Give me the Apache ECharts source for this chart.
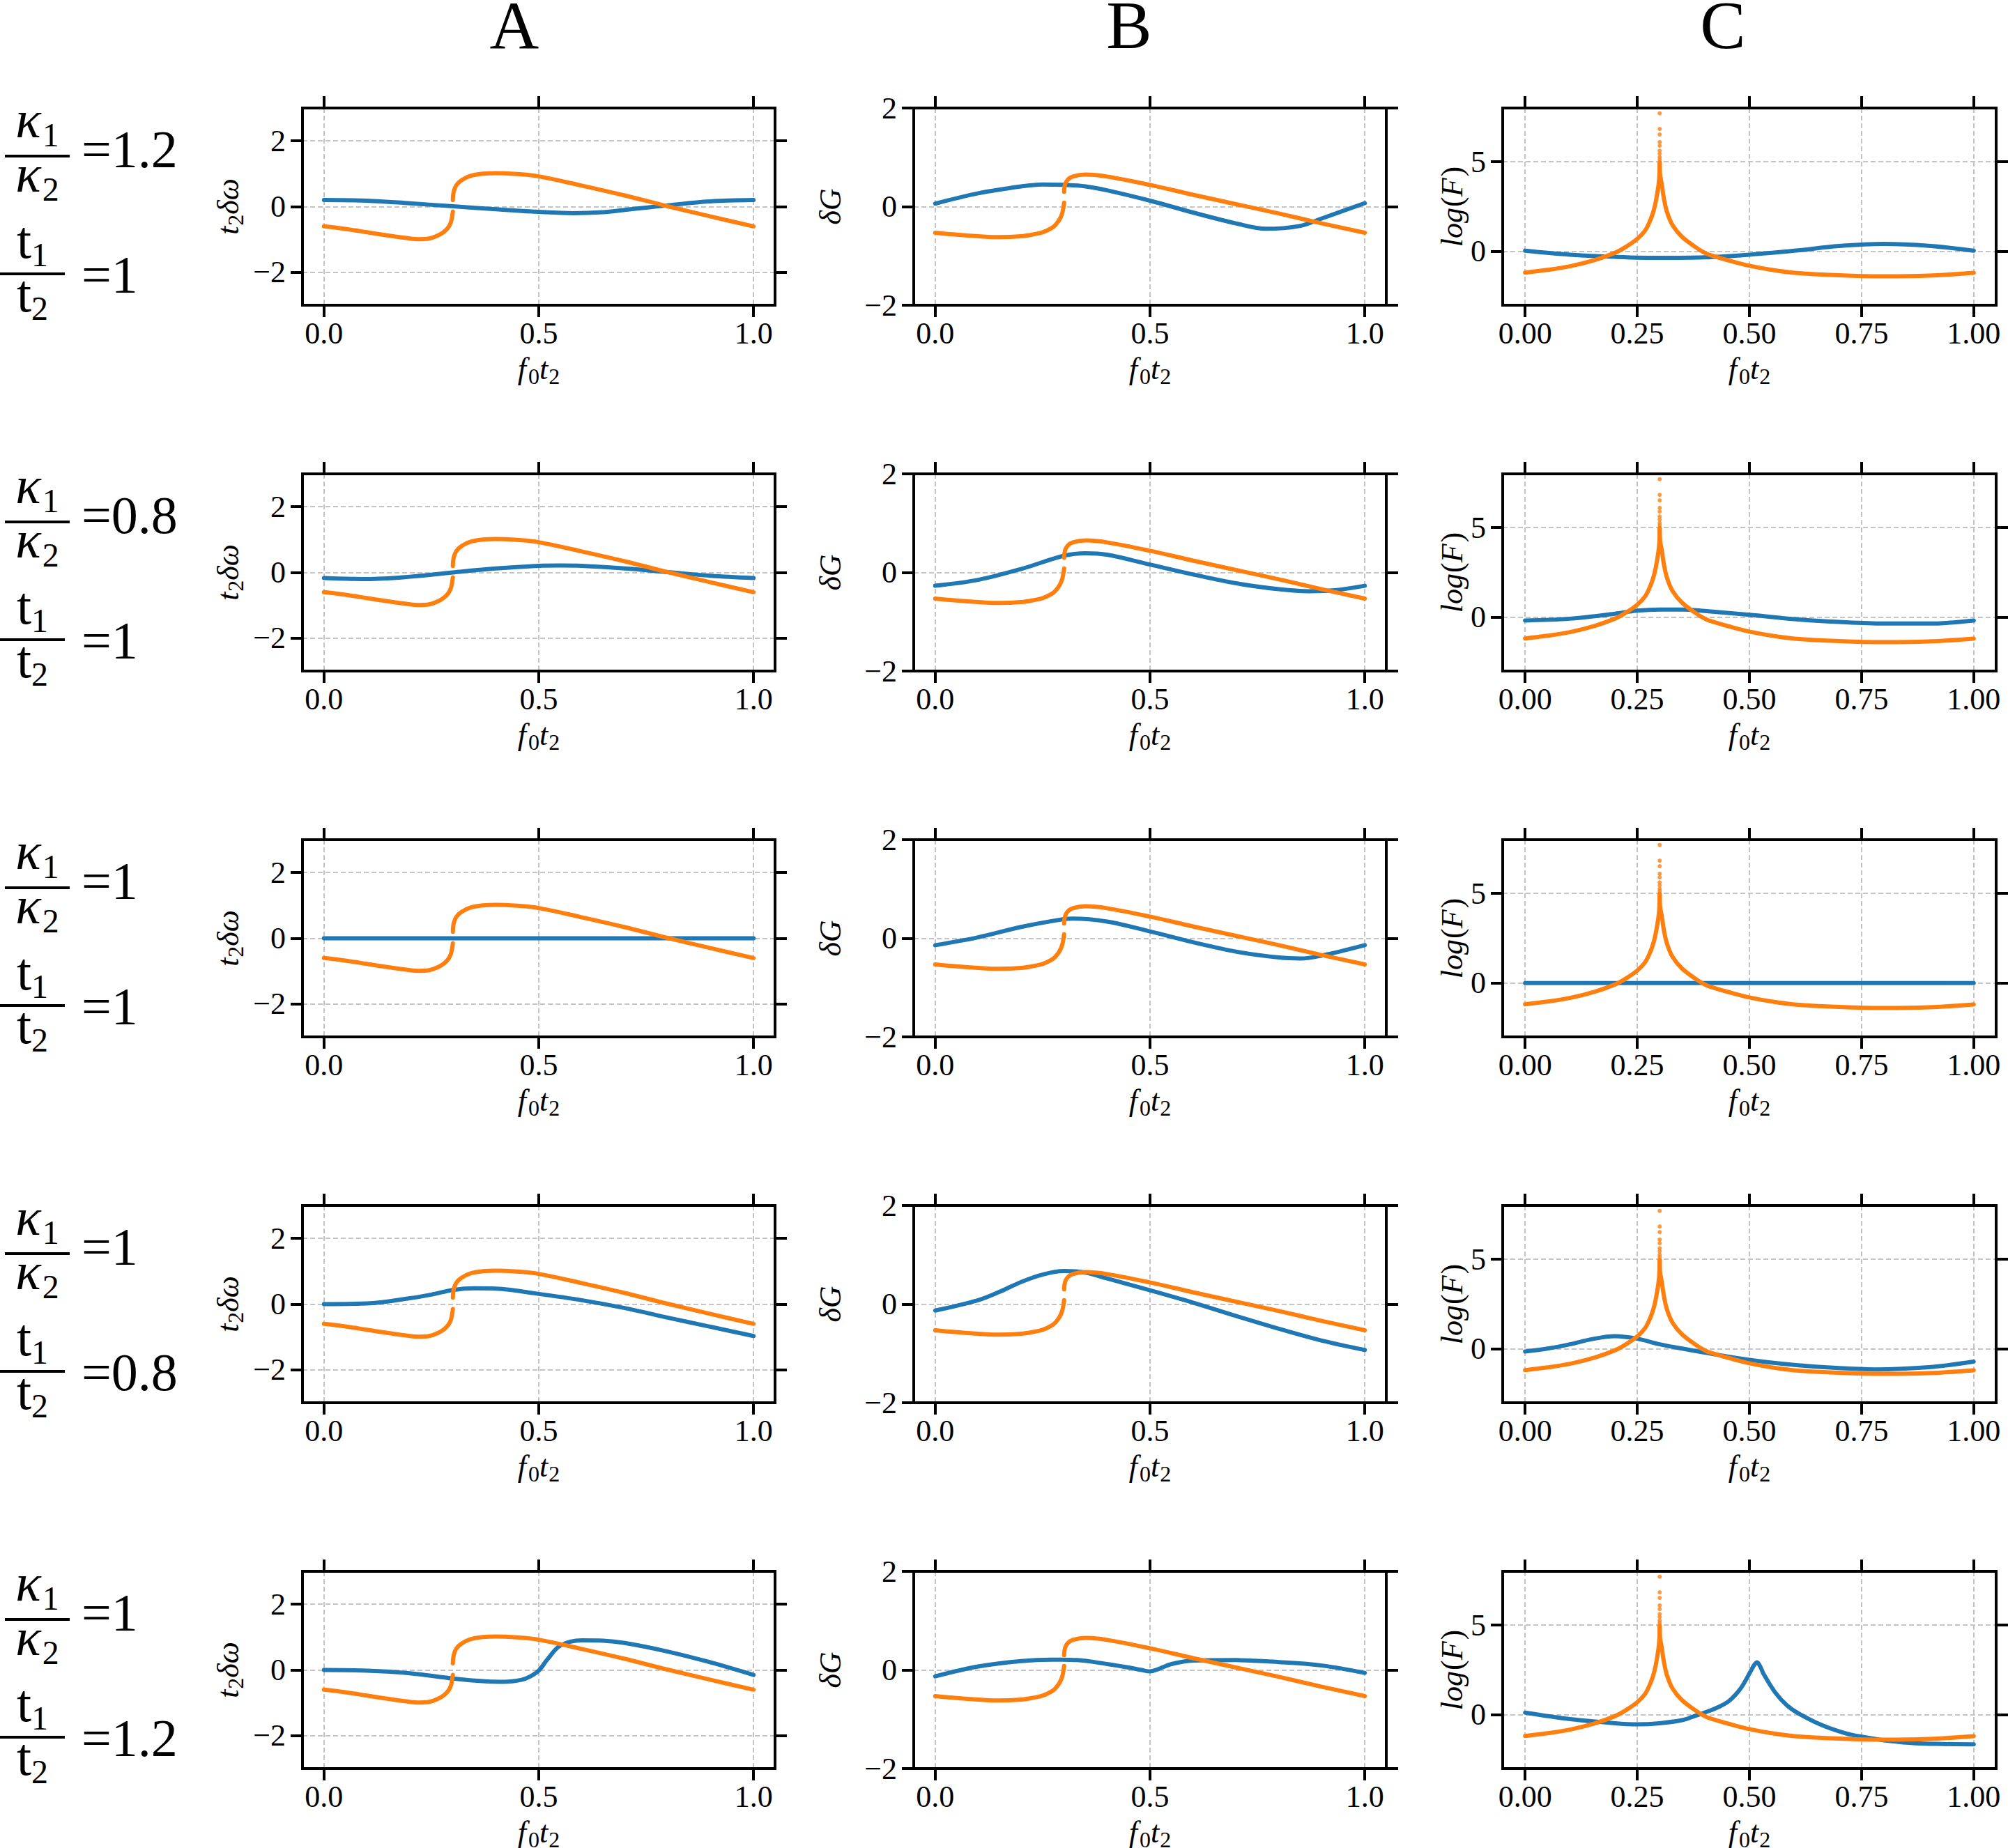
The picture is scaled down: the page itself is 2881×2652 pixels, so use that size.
<!DOCTYPE html>
<html><head><meta charset="utf-8">
<script src="https://cdn.jsdelivr.net/npm/echarts@6/dist/echarts.min.js"></script>
<style>html,body{margin:0;padding:0;background:#fff}#chart{width:2881px;height:2652px}</style>
</head><body><div id="chart"></div>
<script>
// ---------------- data ----------------
const columnTitles = ['A', 'B', 'C'];
const kappaRatios = ['1.2', '0.8', '1', '1', '1'];
const tRatios = ['1', '1', '1', '0.8', '1.2'];
const xTicksAB = [0, 0.5, 1];
const xTicksC = [0, 0.25, 0.5, 0.75, 1];
const yTicksA = [-2, 0, 2];
const yTicksB = [-2, 0, 2];
const yTicksC = [0, 5];

// column A : t2·δω (orange identical in all rows)
const orangeA_lower = [[0,-0.6],[0.05,-0.68],[0.1,-0.78],[0.15,-0.88],[0.2,-0.97],[0.22,-0.99],[0.245,-0.97],[0.265,-0.88],[0.28,-0.76],[0.29,-0.62],[0.296,-0.45],[0.3,-0.15]];
const orangeA_upper = [[0.3,0.2],[0.302,0.45],[0.308,0.65],[0.32,0.8],[0.34,0.93],[0.37,1.0],[0.4,1.02],[0.45,0.99],[0.5,0.92],[0.6,0.64],[0.7,0.34],[0.8,0.01],[0.9,-0.3],[1,-0.6]];
const blueA_r1 = [[0,0.2],[0.1,0.18],[0.2,0.1],[0.3,0.01],[0.4,-0.08],[0.5,-0.16],[0.58,-0.2],[0.65,-0.17],[0.7,-0.1],[0.75,-0.03],[0.8,0.04],[0.9,0.16],[1,0.2]];
const blueA_r2 = [[0,-0.17],[0.05,-0.19],[0.1,-0.2],[0.2,-0.13],[0.3,0],[0.4,0.12],[0.5,0.2],[0.55,0.21],[0.6,0.2],[0.7,0.12],[0.8,0.01],[0.9,-0.1],[1,-0.17]];
const blueA_r3 = [[0,0],[0.5,0],[1,0]];
const blueA_r4 = [[0,0],[0.1,0.02],[0.2,0.18],[0.25,0.29],[0.3,0.43],[0.35,0.48],[0.4,0.47],[0.5,0.31],[0.6,0.12],[0.7,-0.12],[0.8,-0.41],[0.9,-0.69],[1,-0.97]];
const blueA_r5 = [[0,0],[0.1,-0.02],[0.2,-0.1],[0.3,-0.26],[0.38,-0.35],[0.42,-0.36],[0.46,-0.3],[0.48,-0.2],[0.5,-0.02],[0.52,0.32],[0.55,0.74],[0.6,0.9],[0.65,0.89],[0.7,0.82],[0.8,0.56],[0.9,0.23],[1,-0.15]];

// column B : δG
const orangeB_lower = [[0,-0.53],[0.05,-0.57],[0.1,-0.6],[0.15,-0.62],[0.2,-0.6],[0.23,-0.56],[0.25,-0.52],[0.27,-0.44],[0.28,-0.37],[0.29,-0.25],[0.296,-0.12],[0.3,0.08]];
const orangeB_upper = [[0.3,0.3],[0.302,0.44],[0.308,0.54],[0.32,0.61],[0.35,0.65],[0.4,0.61],[0.5,0.44],[0.6,0.24],[0.7,0.05],[0.8,-0.14],[0.9,-0.34],[1,-0.53]];
const blueB_r1 = [[0,0.06],[0.1,0.27],[0.2,0.41],[0.25,0.45],[0.3,0.44],[0.35,0.41],[0.4,0.33],[0.5,0.12],[0.6,-0.12],[0.7,-0.34],[0.77,-0.45],[0.85,-0.39],[0.9,-0.24],[1,0.07]];
const blueB_r2 = [[0,-0.27],[0.1,-0.15],[0.2,0.07],[0.3,0.34],[0.35,0.39],[0.4,0.36],[0.5,0.16],[0.6,-0.04],[0.7,-0.22],[0.8,-0.34],[0.87,-0.38],[0.93,-0.36],[1,-0.27]];
const blueB_r3 = [[0,-0.14],[0.1,0.02],[0.2,0.23],[0.3,0.39],[0.32,0.4],[0.4,0.34],[0.5,0.14],[0.6,-0.08],[0.7,-0.27],[0.8,-0.39],[0.85,-0.41],[0.9,-0.35],[1,-0.14]];
const blueB_r4 = [[0,-0.13],[0.1,0.08],[0.15,0.25],[0.2,0.45],[0.25,0.6],[0.3,0.67],[0.35,0.64],[0.4,0.52],[0.5,0.28],[0.6,0.03],[0.7,-0.24],[0.8,-0.5],[0.9,-0.74],[1,-0.93]];
const blueB_r5 = [[0,-0.13],[0.1,0.07],[0.2,0.18],[0.27,0.21],[0.33,0.2],[0.4,0.12],[0.45,0.05],[0.48,0.0],[0.5,-0.03],[0.52,0.02],[0.55,0.12],[0.6,0.19],[0.7,0.2],[0.8,0.16],[0.9,0.09],[1,-0.06]];

// column C : log(F)
const orangeC_left = [[0,-1.18],[0.05,-1.03],[0.1,-0.83],[0.15,-0.52],[0.2,-0.08],[0.225,0.26],[0.25,0.7],[0.267,1.15],[0.277,1.62],[0.285,2.15],[0.291,2.75],[0.297,3.64],[0.2995,4.3],[0.3,4.95]];
const orangeC_right = [[0.3,4.95],[0.3008,4.3],[0.305,3.7],[0.309,3.0],[0.316,2.22],[0.329,1.45],[0.35,0.81],[0.381,0.22],[0.395,0.0],[0.412,-0.2],[0.459,-0.54],[0.5,-0.8],[0.55,-1.03],[0.6,-1.19],[0.7,-1.33],[0.8,-1.39],[0.9,-1.35],[1,-1.19]];
const orangeC_peakDots = [[0.3,5.0],[0.3,5.13],[0.3,5.26],[0.3,5.45],[0.3,5.62],[0.3,5.9],[0.3,6.1],[0.3,6.52],[0.3,6.83],[0.3,7.7]];
const blueC_r1 = [[0,0.04],[0.1,-0.18],[0.2,-0.3],[0.3,-0.36],[0.4,-0.33],[0.5,-0.18],[0.6,0.04],[0.7,0.3],[0.8,0.42],[0.9,0.31],[1,0.04]];
const blueC_r2 = [[0,-0.18],[0.1,-0.08],[0.2,0.2],[0.25,0.37],[0.3,0.43],[0.35,0.43],[0.4,0.35],[0.5,0.14],[0.6,-0.1],[0.7,-0.26],[0.8,-0.35],[0.9,-0.35],[1,-0.18]];
const blueC_r3 = [[0,0],[0.5,0],[1,0]];
const blueC_r4 = [[0,-0.14],[0.05,0.02],[0.1,0.26],[0.15,0.55],[0.2,0.71],[0.25,0.57],[0.3,0.26],[0.35,0.02],[0.4,-0.2],[0.5,-0.61],[0.6,-0.89],[0.7,-1.07],[0.78,-1.14],[0.9,-1.02],[1,-0.71]];
const blueC_r5 = [[0,0.12],[0.1,-0.24],[0.2,-0.47],[0.25,-0.53],[0.3,-0.47],[0.35,-0.3],[0.38,-0.05],[0.4,0.12],[0.43,0.42],[0.455,0.78],[0.481,1.49],[0.502,2.39],[0.51,2.75],[0.517,2.93],[0.524,2.7],[0.532,2.26],[0.558,1.23],[0.584,0.52],[0.61,0.07],[0.662,-0.58],[0.714,-1.03],[0.75,-1.22],[0.818,-1.48],[0.87,-1.59],[0.93,-1.63],[1,-1.65]];

const blueRows = [
  [blueA_r1, blueB_r1, blueC_r1],
  [blueA_r2, blueB_r2, blueC_r2],
  [blueA_r3, blueB_r3, blueC_r3],
  [blueA_r4, blueB_r4, blueC_r4],
  [blueA_r5, blueB_r5, blueC_r5]
];
const orangeCols = [[orangeA_lower, orangeA_upper], [orangeB_lower, orangeB_upper], [orangeC_left, orangeC_right]];

// ---------------- layout / style ----------------
const FONT = '"Liberation Serif", "Times New Roman", serif';
const BLUE = '#1f77b4', ORANGE = '#ff7f0e';
const ROW_TOP0 = 155, ROW_PITCH = 525, BOX_H = 283;
const COL_LEFT = [434, 1311, 2156], COL_W = [678, 678, 708];
const YLABEL_X = [328, 1192, 2084];
const TITLE_X = [738, 1620, 2472];
const Y_RANGES = [[-3, 3], [-2, 2], [-3, 8]];
const Y_TICKS = [yTicksA, yTicksB, yTicksC];

const mctx = document.createElement('canvas').getContext('2d');
function textWidth(s, size, italic) {
  mctx.font = (italic ? 'italic ' : '') + size + 'px "Liberation Serif"';
  return mctx.measureText(s).width;
}
function mathGroup(parts, x, y, align, rotation, baseOffset) {
  const ws = parts.map(p => textWidth(p.t, p.s, p.i) + (p.gap || 0));
  const total = ws.reduce((a, b) => a + b, 0);
  let cx = align === 'center' ? -total / 2 : 0;
  const base = baseOffset || 0;
  const children = parts.map((p, k) => {
    const el = {
      type: 'text', x: cx, y: base + (p.d || 0) - 0.34 * p.s, silent: true,
      style: { text: p.t, fontFamily: FONT, fontSize: p.s, fontStyle: p.i ? 'italic' : 'normal',
               fill: '#000', align: 'left', verticalAlign: 'middle' }
    };
    cx += ws[k];
    return el;
  });
  return { type: 'group', x: x, y: y, rotation: rotation || 0, children: children, silent: true };
}
const fmtY = v => (v < 0 ? '\u2212' + Math.abs(v) : String(v));

const grids = [], xAxes = [], yAxes = [], series = [], graphics = [];
const tickStyle = { color: '#000', width: 4 };
const splitStyle = { color: '#c4c4c4', width: 2, type: [7, 4] };
const hiddenLine = { show: false, onZero: false };

for (let r = 0; r < 5; r++) {
  const T = ROW_TOP0 + r * ROW_PITCH;
  for (let c = 0; c < 3; c++) {
    const gi = grids.length;
    grids.push({ left: COL_LEFT[c], top: T, width: COL_W[c], height: BOX_H, show: true, z: 5,
      borderColor: '#000', borderWidth: 4, backgroundColor: 'rgba(0,0,0,0)', containLabel: false, outerBoundsMode: 'none' });
    const xt = c === 2 ? xTicksC : xTicksAB;
    const yt = Y_TICKS[c];
    const dec = c === 2 ? 2 : 1;
    const xi = xAxes.length;
    xAxes.push({ type: 'value', gridIndex: gi, position: 'bottom', min: -0.05, max: 1.05,
      axisLine: hiddenLine,
      axisTick: { show: true, inside: false, length: 17, customValues: xt, lineStyle: tickStyle },
      axisLabel: { show: true, customValues: xt, margin: 18, formatter: v => Number(v).toFixed(dec),
        fontFamily: FONT, fontSize: 44, color: '#000' },
      splitLine: { show: true, lineStyle: splitStyle } });
    xAxes.push({ type: 'value', gridIndex: gi, position: 'top', min: -0.05, max: 1.05,
      axisLine: hiddenLine,
      axisTick: { show: true, inside: false, length: 17, customValues: xt, lineStyle: tickStyle },
      axisLabel: { show: false }, splitLine: { show: false } });
    const yi = yAxes.length;
    yAxes.push({ type: 'value', gridIndex: gi, position: 'left', min: Y_RANGES[c][0], max: Y_RANGES[c][1],
      axisLine: hiddenLine,
      axisTick: { show: true, inside: false, length: 17, customValues: yt, lineStyle: tickStyle },
      axisLabel: { show: true, customValues: yt, margin: 24, formatter: fmtY,
        fontFamily: FONT, fontSize: 44, color: '#000' },
      splitLine: { show: true, lineStyle: splitStyle } });
    yAxes.push({ type: 'value', gridIndex: gi, position: 'right', min: Y_RANGES[c][0], max: Y_RANGES[c][1],
      axisLine: hiddenLine,
      axisTick: { show: true, inside: false, length: 17, customValues: yt, lineStyle: tickStyle },
      axisLabel: { show: false }, splitLine: { show: false } });

    const lineBase = (data, color) => ({
      type: 'line', xAxisIndex: xi, yAxisIndex: yi, data: data, showSymbol: false, symbol: 'none',
      smooth: 0.35, animation: false, silent: true,
      lineStyle: { color: color, width: 6, cap: 'round', join: 'round' }, itemStyle: { color: color }
    });
    series.push(lineBase(blueRows[r][c], BLUE));
    series.push(lineBase(orangeCols[c][0], ORANGE));
    series.push(lineBase(orangeCols[c][1], ORANGE));
    if (c === 2) {
      series.push({ type: 'scatter', xAxisIndex: xi, yAxisIndex: yi, data: orangeC_peakDots,
        symbolSize: 6, itemStyle: { color: ORANGE }, animation: false, silent: true });
    }

    // x axis name f0t2
    graphics.push(mathGroup([
      { t: 'f', s: 44, i: true, gap: 3 }, { t: '0', s: 32, d: 7 },
      { t: 't', s: 44, i: true, gap: 1 }, { t: '2', s: 32, d: 7 }
    ], COL_LEFT[c] + COL_W[c] / 2, T + BOX_H + 106, 'center', 0, 0));
    // y axis names
    let yparts;
    if (c === 0) yparts = [{ t: 't', s: 44, i: true, gap: 1 }, { t: '2', s: 32, d: 7 }, { t: '\u03b4\u03c9', s: 44, i: true }];
    else if (c === 1) yparts = [{ t: '\u03b4', s: 44, i: true }, { t: 'G', s: 44, i: true }];
    else yparts = [{ t: 'log', s: 44, i: true, gap: 1 }, { t: '(', s: 44 }, { t: 'F', s: 44, i: true, gap: 2 }, { t: ')', s: 44 }];
    graphics.push(mathGroup(yparts, YLABEL_X[c], T + BOX_H / 2, 'center', Math.PI / 2, 14));
  }

  // row labels (fractions)
  const k1 = mathGroup([{ t: '\u03ba', s: 76, i: true, gap: 2 }, { t: '1', s: 48, d: 13 }], 53.5, T + 42, 'center', 0, 0);
  const k2 = mathGroup([{ t: '\u03ba', s: 76, i: true, gap: 2 }, { t: '2', s: 48, d: 13 }], 53.5, T + 120, 'center', 0, 0);
  const kv = mathGroup([{ t: '=' + kappaRatios[r], s: 76 }], 117, T + 85, 'left', 0, 0);
  const t1 = mathGroup([{ t: 't', s: 76 }, { t: '1', s: 48, d: 12 }], 46.5, T + 215, 'center', 0, 0);
  const t2 = mathGroup([{ t: 't', s: 76 }, { t: '2', s: 48, d: 12 }], 46.5, T + 292, 'center', 0, 0);
  const tv = mathGroup([{ t: '=' + tRatios[r], s: 76 }], 117, T + 265, 'left', 0, 0);
  graphics.push(k1, k2, kv, t1, t2, tv);
  graphics.push({ type: 'line', silent: true, shape: { x1: 7, y1: T + 69, x2: 100, y2: T + 69 }, style: { stroke: '#000', lineWidth: 4 } });
  graphics.push({ type: 'line', silent: true, shape: { x1: 0, y1: T + 238, x2: 93, y2: T + 238 }, style: { stroke: '#000', lineWidth: 4 } });
}
// column titles
for (let c = 0; c < 3; c++) {
  graphics.push(mathGroup([{ t: columnTitles[c], s: 98 }], TITLE_X[c], 69, 'center', 0, 0));
}

const chart = echarts.init(document.getElementById('chart'), null, { renderer: 'svg', width: 2881, height: 2652 });
chart.setOption({
  animation: false,
  backgroundColor: '#fff',
  textStyle: { fontFamily: FONT, color: '#000' },
  grid: grids, xAxis: xAxes, yAxis: yAxes, series: series, graphic: graphics
});
</script></body></html>
